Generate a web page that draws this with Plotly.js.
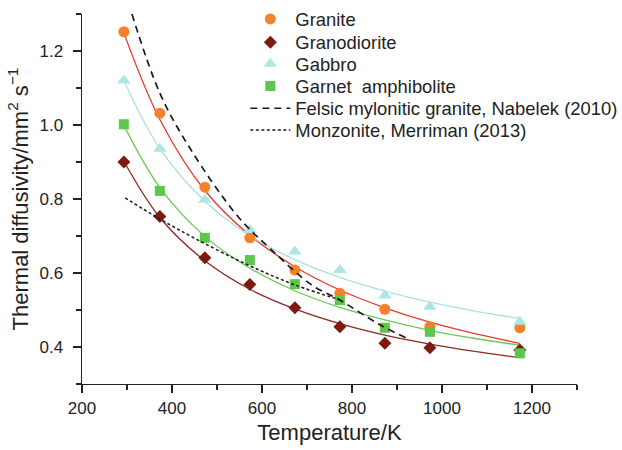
<!DOCTYPE html>
<html>
<head>
<meta charset="utf-8">
<script src="https://cdn.plot.ly/plotly-3.0.1.min.js"></script>
<style>html,body{margin:0;padding:0;background:#fff;}#chart{width:622px;height:450px;}</style>
</head>
<body>
<div id="chart"></div>
<script>
// Measured temperatures (K)
const temps = [293, 373, 473, 573, 673, 773, 873, 973, 1173];
// Thermal diffusivity (mm^2/s)
const granite      = [1.252, 1.032, 0.832, 0.695, 0.608, 0.545, 0.502, 0.455, 0.452];
const granodiorite = [0.900, 0.753, 0.641, 0.569, 0.506, 0.455, 0.410, 0.398, 0.392];
const gabbro       = [1.120, 0.936, 0.798, 0.716, 0.658, 0.608, 0.539, 0.509, 0.468];
const amphibolite  = [1.002, 0.822, 0.695, 0.635, 0.570, 0.527, 0.452, 0.441, 0.383];

// Fitted curves
const fitT = [293, 373, 473, 573, 673, 773, 873, 973, 1073, 1173];
const graniteFit      = [1.249, 1.015, 0.823, 0.702, 0.617, 0.554, 0.506, 0.467, 0.436, 0.410];
const granodioriteFit = [0.902, 0.750, 0.633, 0.556, 0.503, 0.463, 0.432, 0.408, 0.388, 0.371];
const gabbroFit       = [1.120, 0.936, 0.794, 0.701, 0.636, 0.588, 0.551, 0.521, 0.497, 0.477];
const amphiboliteFit  = [0.999, 0.831, 0.699, 0.613, 0.552, 0.507, 0.473, 0.445, 0.423, 0.405];

// Literature curves
const nabelekT = [311, 373, 440, 547, 620, 710, 773, 862, 921];
const nabelekD = [1.300, 1.086, 0.937, 0.752, 0.664, 0.568, 0.527, 0.460, 0.424];
const merrimanT = [296, 370, 458, 570, 673, 780];
const merrimanD = [0.803, 0.748, 0.689, 0.621, 0.568, 0.525];

const names = ['Granite', 'Granodiorite', 'Gabbro', 'Garnet  amphibolite',
               'Felsic mylonitic granite, Nabelek (2010)', 'Monzonite, Merriman (2013)'];
const legendIds = ['legend', 'legend2', 'legend3', 'legend4', 'legend5', 'legend6'];

const fitLine = (y, color) => ({
  x: fitT, y: y, type: 'scatter', mode: 'lines', showlegend: false, hoverinfo: 'skip',
  line: {color: color, width: 1.3, shape: 'spline'}
});
const pts = (y, i, sym, color, size) => ({
  x: temps, y: y, type: 'scatter', mode: 'markers', name: names[i], legend: legendIds[i],
  marker: {symbol: sym, color: color, size: size, line: {width: 0}}
});

const traces = [
  fitLine(graniteFit, '#e8382b'),
  fitLine(granodioriteFit, '#8a2a22'),
  fitLine(gabbroFit, '#a9e2df'),
  fitLine(amphiboliteFit, '#6cc95a'),
  pts(granite, 0, 'circle', '#f5822a', 11),
  pts(granodiorite, 1, 'diamond', '#7e1a12', 10),
  pts(gabbro, 2, 'triangle-up', '#aee6e4', 12),
  pts(amphibolite, 3, 'square', '#5cc74a', 10),
  {x: nabelekT, y: nabelekD, type: 'scatter', mode: 'lines', name: names[4], legend: legendIds[4],
   line: {color: '#1a1a1a', width: 1.7, dash: '7px,5px', shape: 'spline'}},
  {x: merrimanT, y: merrimanD, type: 'scatter', mode: 'lines', name: names[5], legend: legendIds[5],
   line: {color: '#1a1a1a', width: 1.5, dash: '3px,2.5px', shape: 'spline'}}
];

const font = 'Liberation Sans, Arial, Helvetica, sans-serif';
const rowY = [0.9865, 0.9235, 0.8657, 0.8054, 0.7451, 0.6865];
const layout = {
  width: 622, height: 450,
  margin: {l: 82, r: 45, t: 14, b: 66, autoexpand: false},
  paper_bgcolor: '#fff', plot_bgcolor: '#fff',
  font: {family: font, color: '#222', size: 16},
  showlegend: true,
  xaxis: {
    range: [200, 1300], tickvals: [200, 400, 600, 800, 1000, 1200],
    ticks: 'outside', ticklen: 8, tickwidth: 1.2, tickcolor: '#222',
    minor: {tickvals: [300, 500, 700, 900, 1100, 1300], ticks: 'outside', ticklen: 5, tickwidth: 1.2, tickcolor: '#222'},
    showline: true, linecolor: '#222', linewidth: 1.4, showgrid: false, zeroline: false,
    tickfont: {size: 17, family: font, color: '#222'},
    title: {text: 'Temperature/K', font: {size: 22, family: font, color: '#222'}, standoff: 8}
  },
  yaxis: {
    range: [0.3, 1.3], tickvals: [0.4, 0.6, 0.8, 1.0, 1.2], ticktext: ['0.4', '0.6', '0.8', '1.0', '1.2'],
    ticks: 'outside', ticklen: 8, tickwidth: 1.2, tickcolor: '#222', ticklabelstandoff: 6,
    minor: {tickvals: [0.3, 0.5, 0.7, 0.9, 1.1, 1.3], ticks: 'outside', ticklen: 5, tickwidth: 1.2, tickcolor: '#222'},
    showline: true, linecolor: '#222', linewidth: 1.4, showgrid: false, zeroline: false,
    tickfont: {size: 17, family: font, color: '#222'},
    title: {text: 'Thermal diffusivity/mm<sup>2</sup> s<sup>\u22121</sup>', font: {size: 22, family: font, color: '#222'}, standoff: 5}
  }
};
legendIds.forEach((id, i) => {
  layout[id] = {x: 0.33, y: rowY[i], xanchor: 'left', yanchor: 'middle', bgcolor: 'rgba(0,0,0,0)',
                font: {family: font, size: 18.4, color: '#222'}, itemwidth: 40};
});

Plotly.newPlot('chart', traces, layout, {displayModeBar: false, staticPlot: true});
</script>
</body>
</html>
